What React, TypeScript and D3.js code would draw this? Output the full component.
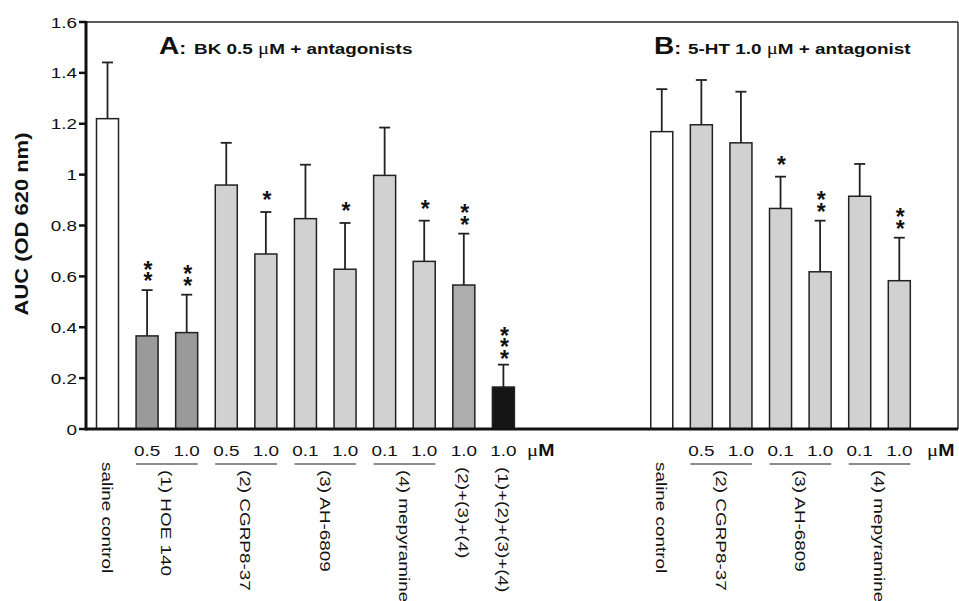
import React from "react";
import * as d3 from "d3";

// ---------- data ----------
const slotKeys = [
  "A0", "A1", "A2", "A3", "A4", "A5", "A6", "A7", "A8", "A9", "A10",
  "gap1", "gap2", "gap3",
  "B0", "B1", "B2", "B3", "B4", "B5", "B6",
];
const barKeys = ["A0", "A1", "A2", "A3", "A4", "A5", "A6", "A7", "A8", "A9", "A10", "B0", "B1", "B2", "B3", "B4", "B5", "B6"];
const barValues = [1.22, 0.366, 0.379, 0.959, 0.688, 0.827, 0.628, 0.997, 0.659, 0.566, 0.165, 1.169, 1.196, 1.125, 0.867, 0.618, 0.915, 0.583];
const barErrors = [0.221, 0.18, 0.149, 0.166, 0.165, 0.212, 0.182, 0.188, 0.16, 0.202, 0.088, 0.167, 0.176, 0.201, 0.125, 0.201, 0.127, 0.169];
const barFills = ["#ffffff", "#9a9a9a", "#9a9a9a", "#d1d1d1", "#d1d1d1", "#d1d1d1", "#d1d1d1", "#d1d1d1", "#d1d1d1", "#adadad", "#151515", "#ffffff", "#d1d1d1", "#d1d1d1", "#d1d1d1", "#d1d1d1", "#d1d1d1", "#d1d1d1"];
const barSig = ["", "**", "**", "", "*", "", "*", "", "*", "**", "***", "", "", "", "*", "**", "", "**"];
const doseLabels = ["", "0.5", "1.0", "0.5", "1.0", "0.1", "1.0", "0.1", "1.0", "1.0", "1.0", "", "0.5", "1.0", "0.1", "1.0", "0.1", "1.0"];

const groupNames = ["saline control", "(1) HOE 140", "(2) CGRP8-37", "(3) AH-6809", "(4) mepyramine", "(2)+(3)+(4)", "(1)+(2)+(3)+(4)", "saline control", "(2) CGRP8-37", "(3) AH-6809", "(4) mepyramine"];
const groupFirst = ["A0", "A1", "A3", "A5", "A7", "A9", "A10", "B0", "B1", "B3", "B5"];
const groupLast = ["A0", "A2", "A4", "A6", "A8", "A9", "A10", "B0", "B2", "B4", "B6"];

const yTicks = [0, 0.2, 0.4, 0.6, 0.8, 1, 1.2, 1.4, 1.6];
const yTickLabels = ["0", "0.2", "0.4", "0.6", "0.8", "1", "1.2", "1.4", "1.6"];
const yLabel = "AUC (OD 620 nm)";

// ---------- layout ----------
const W = 959, H = 601;
const left = 86, right = 958, top = 22, bottom = 429;
const SX = 1.22;
const FONT = "'Liberation Sans', Arial, Helvetica, sans-serif";
const SERIF = "'Liberation Serif', 'Times New Roman', serif";
const STAR = 23;

const x = d3.scaleBand<string>().domain(slotKeys).range([76.7, 930.1]).paddingInner(0.444).paddingOuter(0.5);
const y = d3.scaleLinear().domain([0, 1.6]).range([bottom, top]);

function ST({ x: tx, y: ty, rot = 0, size = 15.5, weight = "normal", anchor = "start", dy, children, family = FONT }: any) {
  return (
    <text
      transform={`translate(${tx},${ty}) rotate(${rot}) scale(${SX},1)`}
      fontSize={size}
      fontWeight={weight}
      textAnchor={anchor}
      dy={dy}
      fontFamily={family}
      fill="#111"
    >
      {children}
    </text>
  );
}

export default function App() {
  const bw = x.bandwidth();
  const cx = (k: string) => (x(k) as number) + bw / 2;

  return (
    <svg width={W} height={H} style={{ position: "absolute", left: 0, top: 0, background: "#fff" }}>
      <rect x={0} y={0} width={W} height={H} fill="#fff" />

      {/* frame */}
      <line x1={left} x2={right} y1={top} y2={top} stroke="#222" strokeWidth={1.6} />
      <line x1={right} x2={right} y1={top} y2={bottom} stroke="#222" strokeWidth={1.4} />

      {/* bars */}
      {barKeys.map((k, i) => {
        const v = barValues[i];
        const et = v + barErrors[i];
        const c = cx(k);
        const n = barSig[i].length;
        const topCenter = y(et) - 17.5 - 8.5 * (n - 1);
        return (
          <g key={k}>
            <line x1={c} x2={c} y1={y(v)} y2={y(et)} stroke="#222" strokeWidth={1.8} />
            <line x1={c - 5.5} x2={c + 5.5} y1={y(et)} y2={y(et)} stroke="#222" strokeWidth={1.8} />
            <rect x={x(k)} y={y(v)} width={bw} height={bottom - y(v)} fill={barFills[i]} stroke="#222" strokeWidth={1.5} />
            {n > 0 && (
              <text
                x={c + 1}
                y={topCenter - 0.33 * STAR}
                fontSize={STAR}
                fontWeight="bold"
                fontFamily={FONT}
                fill="#111"
                style={{ writingMode: "vertical-rl", textOrientation: "upright", letterSpacing: `${8.5 - STAR}px` } as any}
              >
                {barSig[i]}
              </text>
            )}
            {doseLabels[i] && (
              <ST x={c} y={456} anchor="middle">{doseLabels[i]}</ST>
            )}
          </g>
        );
      })}

      {/* axes */}
      <line x1={left} x2={right} y1={bottom} y2={bottom} stroke="#111" strokeWidth={3} />
      <line x1={left} x2={left} y1={top - 1} y2={bottom + 1.5} stroke="#111" strokeWidth={3} />
      {yTicks.map((t, i) => (
        <g key={t}>
          <line x1={left - 7} x2={left} y1={y(t)} y2={y(t)} stroke="#111" strokeWidth={2.5} />
          <ST x={77} y={y(t)} anchor="end" dy="0.36em">{yTickLabels[i]}</ST>
        </g>
      ))}
      <ST x={22} y={224} rot={-90} size={18} weight="bold" anchor="middle" dy="0.36em">{yLabel}</ST>

      {/* group labels */}
      {groupNames.map((g, i) => {
        const a = groupFirst[i], b = groupLast[i];
        const two = a !== b;
        const c = (cx(a) + cx(b)) / 2;
        const isSaline = g === "saline control";
        const ys = isSaline ? 462 : two ? 470 : 467;
        return (
          <g key={i}>
            {two && (
              <line x1={x(a) as number} x2={(x(b) as number) + bw} y1={464} y2={464} stroke="#666" strokeWidth={1.5} />
            )}
            <ST x={c} y={ys} rot={90} dy="0.36em">{g}</ST>
          </g>
        );
      })}

      {/* µM unit labels */}
      <ST x={527} y={456}><tspan fontFamily={SERIF} fontSize={17}>μ</tspan><tspan fontWeight="bold" fontSize={16}>M</tspan></ST>
      <ST x={927} y={456}><tspan fontFamily={SERIF} fontSize={17}>μ</tspan><tspan fontWeight="bold" fontSize={16}>M</tspan></ST>

      {/* titles */}
      <ST x={159} y={53.5} size={23} weight="bold">A<tspan fontSize={17}>:</tspan></ST>
      <ST x={194} y={53.5} weight="bold">BK 0.5 <tspan fontFamily={SERIF} fontWeight="normal" fontSize={17}>μ</tspan>M + antagonists</ST>
      <ST x={654} y={54} size={23} weight="bold">B<tspan fontSize={17}>:</tspan></ST>
      <ST x={688} y={54} weight="bold">5-HT 1.0 <tspan fontFamily={SERIF} fontWeight="normal" fontSize={17}>μ</tspan>M + antagonist</ST>
    </svg>
  );
}
